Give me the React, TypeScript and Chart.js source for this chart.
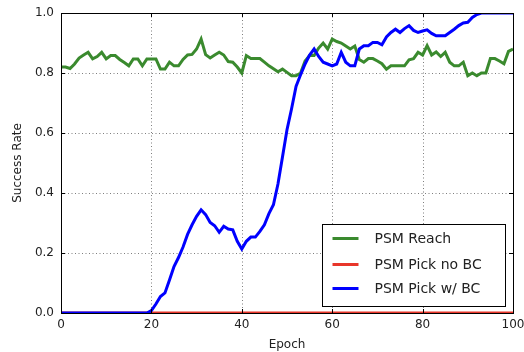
import React, { useEffect, useRef } from "react";
import { Chart, registerables } from "chart.js";

Chart.register(...registerables);

const epochs: number[] = Array.from({ length: 101 }, (_, i) => i);

const reachValues: number[] = [
  0.82, 0.82, 0.815, 0.83, 0.85, 0.86, 0.869, 0.847, 0.855, 0.869,
  0.847, 0.858, 0.858, 0.845, 0.835, 0.824, 0.847, 0.847, 0.824, 0.847,
  0.847, 0.847, 0.813, 0.813, 0.836, 0.824, 0.824, 0.845, 0.86, 0.862,
  0.88, 0.913, 0.861, 0.85, 0.86, 0.869, 0.86, 0.838, 0.836, 0.82,
  0.8, 0.858, 0.848, 0.848, 0.848, 0.836, 0.824, 0.814, 0.804, 0.813,
  0.802, 0.791, 0.791, 0.8, 0.84, 0.858, 0.858, 0.883, 0.9, 0.88,
  0.913, 0.905, 0.9, 0.89, 0.88, 0.89, 0.845, 0.836, 0.848, 0.848,
  0.84, 0.831, 0.813, 0.824, 0.824, 0.824, 0.824, 0.844, 0.848, 0.869,
  0.86, 0.891, 0.86, 0.87, 0.855, 0.869, 0.836, 0.824, 0.824, 0.836,
  0.791, 0.8, 0.791, 0.8, 0.8, 0.848, 0.848, 0.84, 0.831, 0.872,
  0.88,
];

const pickNoBCValues: number[] = [
  0, 0, 0, 0, 0, 0, 0, 0, 0, 0, 0, 0, 0, 0, 0, 0, 0, 0, 0, 0,
  0, 0, 0, 0, 0, 0, 0, 0, 0, 0, 0, 0, 0, 0, 0, 0, 0, 0, 0, 0,
  0, 0, 0, 0, 0, 0, 0, 0, 0, 0, 0, 0, 0, 0, 0, 0, 0, 0, 0, 0,
  0, 0, 0, 0, 0, 0, 0, 0, 0, 0, 0, 0, 0, 0, 0, 0, 0, 0, 0, 0,
  0, 0, 0, 0, 0, 0, 0, 0, 0, 0, 0, 0, 0, 0, 0, 0, 0, 0, 0, 0,
  0,
];

const pickBCValues: number[] = [
  0, 0, 0, 0, 0, 0, 0, 0, 0, 0, 0, 0, 0, 0, 0, 0, 0, 0, 0, 0,
  0.008, 0.03, 0.055, 0.067, 0.11, 0.155, 0.185, 0.22, 0.262, 0.294,
  0.322, 0.344, 0.328, 0.302, 0.291, 0.269, 0.289, 0.28, 0.277, 0.239,
  0.213, 0.239, 0.253, 0.253, 0.272, 0.294, 0.331, 0.361, 0.43, 0.52,
  0.611, 0.68, 0.755, 0.794, 0.83, 0.86, 0.88, 0.855, 0.836, 0.83,
  0.824, 0.83, 0.869, 0.836, 0.824, 0.824, 0.88, 0.891, 0.891, 0.902,
  0.902, 0.894, 0.92, 0.935, 0.946, 0.935, 0.948, 0.958, 0.942, 0.935,
  0.94, 0.944, 0.932, 0.924, 0.924, 0.924, 0.935, 0.946, 0.958, 0.967,
  0.969, 0.985, 0.995, 1, 1, 1, 1, 1, 1, 1,
  1,
];

const xTicks: number[] = [0, 20, 40, 60, 80, 100];
const yTicks: number[] = [0, 0.2, 0.4, 0.6, 0.8, 1.0];

const FONT = "'DejaVu Sans', sans-serif";

const framePlugin = {
  id: "frameAndTicks",
  beforeDatasetsDraw(chart: any) {
    const { ctx, chartArea: a, scales } = chart;
    ctx.save();
    ctx.strokeStyle = "rgba(0,0,0,0.5)";
    ctx.lineWidth = 1;
    ctx.setLineDash([1, 2.5]);
    ctx.beginPath();
    xTicks.forEach((v) => {
      const px = Math.round(scales.x.getPixelForValue(v)) + 0.5;
      ctx.moveTo(px, a.top);
      ctx.lineTo(px, a.bottom);
    });
    yTicks.forEach((v) => {
      const py = Math.round(scales.y.getPixelForValue(v)) + 0.5;
      ctx.moveTo(a.left, py);
      ctx.lineTo(a.right, py);
    });
    ctx.stroke();
    ctx.restore();
  },
  afterDatasetsDraw(chart: any) {
    const { ctx, chartArea: a, scales } = chart;
    ctx.save();
    ctx.strokeStyle = "#000";
    ctx.lineWidth = 1;
    ctx.beginPath();
    xTicks.forEach((v) => {
      const px = Math.round(scales.x.getPixelForValue(v)) + 0.5;
      ctx.moveTo(px, a.bottom);
      ctx.lineTo(px, a.bottom - 4);
      ctx.moveTo(px, a.top);
      ctx.lineTo(px, a.top + 4);
    });
    yTicks.forEach((v) => {
      const py = Math.round(scales.y.getPixelForValue(v)) + 0.5;
      ctx.moveTo(a.left, py);
      ctx.lineTo(a.left + 4, py);
      ctx.moveTo(a.right, py);
      ctx.lineTo(a.right - 4, py);
    });
    ctx.stroke();
    ctx.strokeRect(Math.round(a.left) + 0.5, Math.round(a.top) + 0.5, Math.round(a.right - a.left), Math.round(a.bottom - a.top));
    ctx.restore();
  },
  afterDraw(chart: any) {
    const { ctx, chartArea: a } = chart;
    const w = 183;
    const h = 82;
    const left = Math.round(a.right - 8 - w) + 0.5;
    const top = Math.round(a.bottom - 7 - h) + 0.5;
    ctx.save();
    ctx.fillStyle = "#fff";
    ctx.fillRect(left, top, w, h);
    ctx.strokeStyle = "#000";
    ctx.lineWidth = 1;
    ctx.strokeRect(left, top, w, h);
    const rows = [14, 40, 64];
    ctx.font = `14px ${FONT}`;
    ctx.textBaseline = "middle";
    ctx.textAlign = "left";
    chart.data.datasets.forEach((ds: any, i: number) => {
      const y = top + rows[i];
      ctx.strokeStyle = ds.borderColor;
      ctx.lineWidth = 3;
      ctx.beginPath();
      ctx.moveTo(left + 10, y);
      ctx.lineTo(left + 36, y);
      ctx.stroke();
      ctx.fillStyle = "#222";
      ctx.fillText(ds.label, left + 52, y + 1);
    });
    ctx.restore();
  },
};

export default function App() {
  const ref = useRef<HTMLCanvasElement | null>(null);

  useEffect(() => {
    document.body.style.margin = "0";
    if (!ref.current) return;
    const mk = (vals: number[]) => epochs.map((e, i) => ({ x: e, y: vals[i] }));
    const chart = new Chart(ref.current, {
      type: "line",
      data: {
        datasets: [
          {
            label: "PSM Reach",
            data: mk(reachValues),
            borderColor: "#3a8a2e",
            borderWidth: 3,
            pointRadius: 0,
            tension: 0,
            order: 3,
          },
          {
            label: "PSM Pick no BC",
            data: mk(pickNoBCValues),
            borderColor: "#e8362a",
            borderWidth: 3,
            pointRadius: 0,
            tension: 0,
            order: 2,
          },
          {
            label: "PSM Pick w/ BC",
            data: mk(pickBCValues),
            borderColor: "#0000ff",
            borderWidth: 3,
            pointRadius: 0,
            tension: 0,
            order: 1,
          },
        ],
      },
      options: {
        responsive: false,
        animation: false,
        layout: { padding: { top: 13, right: 11, left: 0, bottom: 0 } },
        plugins: {
          legend: { display: false },
          tooltip: { enabled: false },
        },
        scales: {
          x: {
            type: "linear",
            min: 0,
            max: 100,
            afterBuildTicks: (s: any) => {
              s.ticks = xTicks.map((v) => ({ value: v }));
            },
            afterFit: (s: any) => {
              s.height = 39;
              s.paddingLeft = 0;
              s.paddingRight = 0;
            },
            ticks: {
              padding: 5,
              color: "#222",
              font: { family: FONT, size: 12 },
              maxRotation: 0,
              callback: (v: any) => String(v),
            },
            grid: { display: false, drawTicks: false },
            border: { display: false },
            title: {
              display: true,
              text: "Epoch",
              color: "#222",
              font: { family: FONT, size: 12 },
              padding: { top: 0, bottom: 0 },
            },
          },
          y: {
            type: "linear",
            min: 0,
            max: 1,
            afterBuildTicks: (s: any) => {
              s.ticks = yTicks.map((v) => ({ value: v }));
            },
            afterFit: (s: any) => {
              s.width = 61;
              s.paddingTop = 0;
              s.paddingBottom = 0;
            },
            ticks: {
              padding: 7,
              color: "#222",
              font: { family: FONT, size: 12 },
              callback: (v: any) => Number(v).toFixed(1),
            },
            grid: { display: false, drawTicks: false },
            border: { display: false },
            title: {
              display: true,
              text: "Success Rate",
              color: "#222",
              font: { family: FONT, size: 12 },
              padding: { top: 11, bottom: 0 },
            },
          },
        },
      },
      plugins: [framePlugin],
    });
    return () => chart.destroy();
  }, []);

  return (
    <div style={{ width: 524, height: 352 }}>
      <canvas ref={ref} width={524} height={352} />
    </div>
  );
}
